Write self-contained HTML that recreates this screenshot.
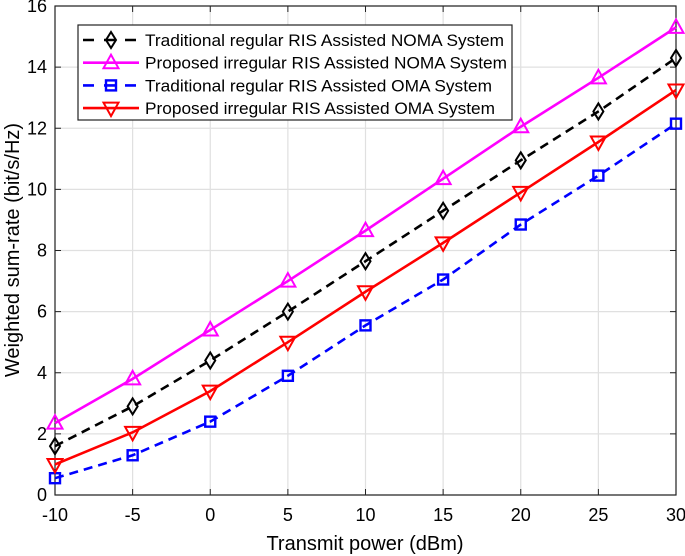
<!DOCTYPE html>
<html><head><meta charset="utf-8"><style>
body{margin:0;background:#fff}
svg{display:block;font-family:"Liberation Sans",Arial,sans-serif}
</style></head><body>
<svg id="chart" width="685" height="556" viewBox="0 0 685 556">
<g id="grid"></g>
<g id="axes"></g>
<g id="series"></g>
<text x="365" y="550" font-size="20" text-anchor="middle">Transmit power (dBm)</text>
<text transform="translate(19,250) rotate(-90)" font-size="20" text-anchor="middle">Weighted sum-rate (bit/s/Hz)</text>
<g id="legend"></g>
</svg>
<script>
const xs=[-10,-5,0,5,10,15,20,25,30];
const yTicks=[0,2,4,6,8,10,12,14,16];
const tradNoma=[1.6,2.9,4.4,6.0,7.65,9.3,10.95,12.55,14.3];
const propNoma=[2.35,3.8,5.4,7.0,8.65,10.35,12.05,13.65,15.3];
const tradOma=[0.55,1.3,2.4,3.9,5.55,7.05,8.85,10.45,12.15];
const propOma=[1.0,2.05,3.4,5.0,6.65,8.25,9.9,11.55,13.25];
const labels=["Traditional regular RIS Assisted NOMA System","Proposed irregular RIS Assisted NOMA System","Traditional regular RIS Assisted OMA System","Proposed irregular RIS Assisted OMA System"];
const NS="http://www.w3.org/2000/svg";
const L=55,R=676,T=6,B=495;
const X=v=>L+(v+10)/40*(R-L);
const Y=v=>B-v/16*(B-T);
function mk(tag,attrs,parent){const e=document.createElementNS(NS,tag);for(const k in attrs)e.setAttribute(k,attrs[k]);parent.appendChild(e);return e;}
const grid=document.getElementById('grid'),axes=document.getElementById('axes'),ser=document.getElementById('series'),leg=document.getElementById('legend');
xs.forEach(v=>{
 const g=mk('line',{x1:X(v),x2:X(v),y1:T,y2:B,stroke:'#e0e0e0','stroke-width':1.2},grid);
 
 
 mk('line',{x1:X(v),x2:X(v),y1:B,y2:B-6,stroke:'#222'},axes);
 mk('line',{x1:X(v),x2:X(v),y1:T,y2:T+6,stroke:'#222'},axes);
 const t=mk('text',{x:X(v),y:B+26,'font-size':18,'text-anchor':'middle'},axes);t.textContent=v;
 
 
});
yTicks.forEach(v=>{
 const g=mk('line',{x1:L,x2:R,y1:Y(v),y2:Y(v),stroke:'#e0e0e0','stroke-width':1.2},grid);
 
 
 mk('line',{x1:L,x2:L+6,y1:Y(v),y2:Y(v),stroke:'#222'},axes);
 mk('line',{x1:R,x2:R-6,y1:Y(v),y2:Y(v),stroke:'#222'},axes);
 const t=mk('text',{x:L-8,y:Y(v)+6,'font-size':18,'text-anchor':'end'},axes);t.textContent=v;
 
 
});
mk('rect',{x:L,y:T,width:R-L,height:B-T,fill:'none',stroke:'#222','stroke-width':1.2},axes);
function marker(type,x,y,col,parent){
 if(type==='diamond')return mk('polygon',{points:`${x},${y-8} ${x+5},${y} ${x},${y+8} ${x-5},${y}`,fill:'none',stroke:col,'stroke-width':2},parent);
 if(type==='up')return mk('polygon',{points:`${x},${y-8} ${x+7.5},${y+5.5} ${x-7.5},${y+5.5}`,fill:'none',stroke:col,'stroke-width':2},parent);
 if(type==='down')return mk('polygon',{points:`${x},${y+8} ${x+7.5},${y-5.5} ${x-7.5},${y-5.5}`,fill:'none',stroke:col,'stroke-width':2},parent);
 return mk('rect',{x:x-5,y:y-5,width:10,height:10,fill:'none',stroke:col,'stroke-width':2.4},parent);
}
const S=[{d:tradNoma,c:'#000',dash:'9,6',m:'diamond',n:'trad-noma'},{d:propNoma,c:'#ff00ff',dash:'',m:'up',n:'prop-noma'},{d:tradOma,c:'#0000ff',dash:'9,6',m:'square',n:'trad-oma'},{d:propOma,c:'#ff0000',dash:'',m:'down',n:'prop-oma'}];
const legW=[359,362,347,350];
S.forEach(s=>{
 const p=mk('polyline',{points:s.d.map((v,i)=>X(xs[i])+','+Y(v)).join(' '),fill:'none',stroke:s.c,'stroke-width':2.6,'stroke-dasharray':s.dash},ser);
 
 
 s.d.forEach((v,i)=>{const m=marker(s.m,X(xs[i]),Y(v),s.c,ser);
  
  });
});
mk('rect',{x:78,y:25,width:434,height:95,fill:'#fff',stroke:'#222','stroke-width':1.2},leg);
S.forEach((s,i)=>{
 const y=40+i*22.7;
 mk('line',{x1:83,x2:139,y1:y,y2:y,stroke:s.c,'stroke-width':2.6,'stroke-dasharray':s.dash?'11,10':''},leg);
 marker(s.m,111,y,s.c,leg);
 const t=mk('text',{x:145,y:y+6,'font-size':17,textLength:legW[i],lengthAdjust:'spacingAndGlyphs'},leg);t.textContent=labels[i];
 
 
});
</script>
</body></html>
